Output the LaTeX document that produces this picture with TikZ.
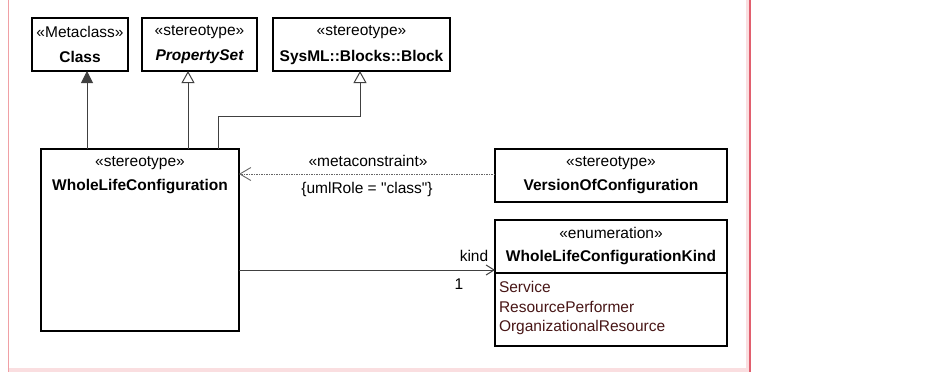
\documentclass[tikz,border=0pt]{standalone}
\usepackage{fontspec}
\setmainfont{Liberation Sans}[Ligatures=TeXOff]
\usetikzlibrary{arrows.meta}
\definecolor{framepink}{RGB}{240,160,165}
\definecolor{framered}{RGB}{225,95,110}
\definecolor{bandpink}{RGB}{250,222,224}
\definecolor{conn}{RGB}{64,64,64}
\definecolor{lit}{RGB}{72,22,22}
\begin{document}
\begin{tikzpicture}[x=1pt,y=-1pt,
  every node/.style={font=\fontsize{15.5}{18}\selectfont, inner sep=0pt, outer sep=0pt},
  umlbox/.style={draw=black, line width=1.1pt, fill=white, rectangle},
  lbl/.style={anchor=center},
  genfilled/.style={draw=conn, line width=1pt, -{Triangle[length=12pt,width=12pt,fill=conn]}},
  genopen/.style={draw=conn, line width=1pt, -{Triangle[open,length=12pt,width=13pt,fill=white]}},
  depline/.style={draw=conn!80, line width=0.8pt, dash pattern=on 1.5pt off 1pt, -{Straight Barb[length=11pt,width=13pt,line width=0.9pt]}},
  assocline/.style={draw=conn, line width=1pt, -{Straight Barb[length=8pt,width=10pt]}},
  litext/.style={anchor=west, text=lit}
]
\useasboundingbox (0,0) rectangle (944,372);
% frame
\fill[bandpink] (9,368) rectangle (749,372);
\fill[bandpink] (746,0) rectangle (749,368);
\draw[framepink, line width=1.2pt] (8.5,0) -- (8.5,372);
\draw[framered, line width=1.6pt] (750,0) -- (750,372);

% boxes
\node[umlbox, minimum width=96pt, minimum height=53pt] (cls) at (80,44.5) {};
\node[umlbox, minimum width=115pt, minimum height=53pt] (pset) at (199.5,44.5) {};
\node[umlbox, minimum width=177pt, minimum height=53pt] (blk) at (361.5,44.5) {};
\node[umlbox, minimum width=198pt, minimum height=182pt] (wlc) at (140,240) {};
\node[umlbox, minimum width=232pt, minimum height=53pt] (ver) at (611,175.5) {};
\node[umlbox, minimum width=232pt, minimum height=126pt] (enm) at (611,283) {};
\draw[black, line width=1.1pt] (enm.west |- 0,273) -- (enm.east |- 0,273);

% box texts
\node[lbl] (clsS) at (80,32) {«Metaclass»};
\node[lbl] (clsN) at (80,57) {\bfseries Class};
\node[lbl] (psetS) at (199.5,32) {«stereotype»};
\node[lbl] (psetN) at (199.5,57) {\bfseries\itshape PropertySet};
\node[lbl] (blkS) at (361.5,32) {«stereotype»};
\node[lbl] (blkN) at (361.5,57) {\bfseries SysML::Blocks::Block};
\node[lbl] (wlcS) at (140,163) {«stereotype»};
\node[lbl] (wlcN) at (140,187) {\bfseries WholeLifeConfiguration};
\node[lbl] (verS) at (611,163) {«stereotype»};
\node[lbl] (verN) at (611,187) {\bfseries VersionOfConfiguration};
\node[lbl] (enmS) at (611,233) {«enumeration»};
\node[lbl] (enmN) at (611,258) {\bfseries WholeLifeConfigurationKind};
\node[litext] (l1) at (499,287) {Service};
\node[litext] (l2) at (499,307) {ResourcePerformer};
\node[litext] (l3) at (499,327) {OrganizationalResource};

% connectors
\draw[genfilled] ([xshift=46pt]wlc.north west) -- ([xshift=55pt]cls.south west);
\draw[genopen] ([xshift=147pt]wlc.north west) -- ([xshift=46pt]pset.south west);
\draw[genopen] ([xshift=177pt]wlc.north west) -- ++(0,-33) -| ([xshift=87pt]blk.south west);
\draw[depline] ([yshift=1.5pt]ver.west) -- ([yshift=1.5pt]ver.west -| wlc.east);
\node[lbl] (mc) at (368,161) {«metaconstraint»};
\node[lbl] (role) at (367,189) {\{umlRole = "class"\}};
\draw[assocline] ([yshift=-30pt]wlc.east) -- ([yshift=-30pt]wlc.east -| enm.west);
\node[lbl] (kind) at (474,256) {kind};
\node[lbl] (mult) at (459,284) {1};
\end{tikzpicture}
\end{document}
